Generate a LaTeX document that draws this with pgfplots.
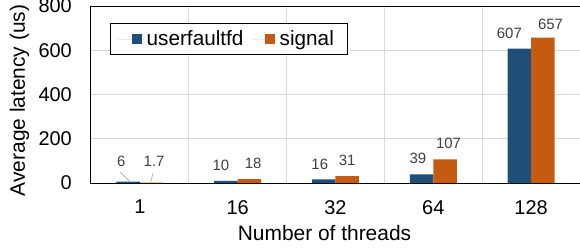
\documentclass[border=0pt]{standalone}
\usepackage{fontspec}
\setmainfont{Liberation Sans}
\usepackage{pgfplots}
\pgfplotsset{compat=1.18}
\usepackage{pgfplotstable}
\usetikzlibrary{calc}
\definecolor{cblue}{HTML}{1F4E79}
\definecolor{corange}{HTML}{C55A11}
\definecolor{labgray}{HTML}{404040}
\definecolor{gridgray}{HTML}{D9D9D9}
\definecolor{leadgray}{HTML}{A6A6A6}

\pgfplotstableread{
x y dx dy
0 6 -7 15
1 10 -5 10.5
2 16 -4 10.5
3 39 -3.7 10.5
4 607 -10 10.5
}\ufd
\pgfplotstableread{
x y dx dy
0 1.7 2.4 16
1 18 3.8 10.5
2 31 0 10.5
3 107 3.5 10.5
4 657 7.7 8.3
}\sig

\begin{document}
\begin{tikzpicture}
\begin{axis}[
 name=ax,
 scale only axis, width=489bp, height=177bp,
 xmin=-0.5, xmax=4.5, ymin=0, ymax=800,
 ybar=0pt, bar width=0.24,
 xtick={0,...,4}, xticklabels={1,16,32,64,128},
 minor xtick={0.5,1.5,2.5,3.5},
 ytick={0,200,...,800},
 ymajorgrids, xminorgrids,
 grid style={gridgray, line width=0.8pt},
 major tick length=0pt, minor tick length=0pt,
 axis line style={black, line width=1pt},
 tick label style={font=\fontsize{20}{24}\selectfont},
 /pgf/number format/assume math mode=true,
 xticklabel style={inner sep=0pt, anchor=north, yshift=-17bp},
 yticklabel style={inner sep=0pt, anchor=east, xshift=-19bp},
 xlabel={Number of threads}, ylabel={Average latency (us)},
 every axis x label/.style={at={($(rel axis cs:0.5,0)+(-11bp,-57bp)$)}, anchor=base, font=\fontsize{21}{25}\selectfont},
 every axis y label/.style={at={($(rel axis cs:0,0.5)+(-66bp,-6bp)$)}, anchor=base, rotate=90, font=\fontsize{21}{25}\selectfont},
 nodes near coords,
 visualization depends on={\thisrow{dx} \as \dx},
 visualization depends on={\thisrow{dy} \as \dy},
 every node near coord/.append style={font=\fontsize{15}{18}\selectfont, text=labgray, anchor=base, inner sep=0pt, xshift=\dx pt, yshift=\dy pt},
 legend columns=2,
 legend style={at={(rel axis cs:0,1)}, anchor=north west, xshift=19bp, yshift=-17bp,
   draw=black, line width=0.8pt, font=\fontsize{20.8}{24}\selectfont,
   inner xsep=8bp, inner ysep=5.5bp},
]
\addplot[fill=cblue, draw=none, legend image code/.code={\path (-13.7bp,0) -- (12.6bp,0); \fill[cblue] (0bp,-5bp) rectangle (10bp,5bp);}] table[x=x, y=y] {\ufd};
\addplot[fill=corange, draw=none, legend image code/.code={\path (-13.7bp,0) -- (12.6bp,0); \fill[corange] (0bp,-5bp) rectangle (10bp,5bp);}] table[x=x, y=y] {\sig};
\legend{userfaultfd\kern6bp\relax, signal\kern4bp\relax}
\draw[leadgray, line width=0.6pt] (axis cs:-0.20,49) -- (axis cs:-0.11,9);
\draw[leadgray, line width=0.6pt] (axis cs:0.134,44) -- (axis cs:0.11,4);
\end{axis}
\pgfresetboundingbox
\path[use as bounding box] ([xshift=-91bp,yshift=6bp]ax.north west) rectangle ([yshift=-67bp]ax.south east);
\end{tikzpicture}
\end{document}
